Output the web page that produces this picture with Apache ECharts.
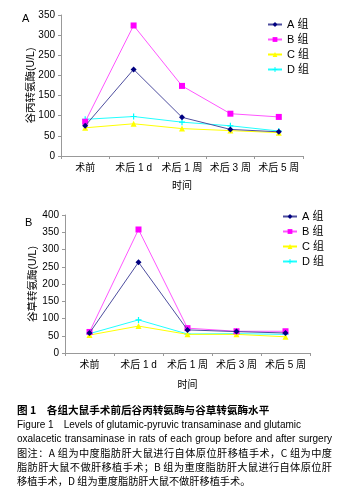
<!DOCTYPE html>
<html>
<head>
<meta charset="utf-8">
<script src="https://cdn.jsdelivr.net/npm/echarts@6/dist/echarts.min.js"></script>
<style>
  html, body { margin: 0; padding: 0; background: #fff; }
  #wrap { position: relative; width: 348px; height: 500px; }
  #main { position: absolute; left: 0; top: 0; width: 348px; height: 500px; }
  .cap { position: absolute; left: 17px; width: 315px; height: 14px; line-height: 14px; color: #000; white-space: nowrap; }
  .cn { font-family: "Noto Sans CJK SC", sans-serif; font-size: 10.2px; }
  .en { font-family: "Liberation Sans", Arial, sans-serif; font-size: 10px; }
  .title { font-family: "Noto Sans CJK SC", sans-serif; font-size: 10.6px; font-weight: bold; }
  .just { text-align: justify; text-align-last: justify; }
</style>
</head>
<body>
<div id="wrap">
  <div id="main"></div>
  <div id="caption"></div>
</div>
<script>
var categories = ['术前', '术后 1 d', '术后 1 周', '术后 3 周', '术后 5 周'];
var groupNames = ['A 组', 'B 组', 'C 组', 'D 组'];

// 谷丙转氨酶 (ALT)
var altA = [75, 215, 96, 66, 60];
var altB = [85, 324, 174, 105, 97];
var altC = [70, 80, 68, 63, 58];
var altD = [91, 98, 84, 75, 62];

// 谷草转氨酶 (AST)
var astA = [58, 263, 67, 62, 58];
var astB = [61, 358, 72, 63, 63];
var astC = [52, 78, 54, 54, 47];
var astD = [56, 96, 55, 56, 54];

var captionTitle = '图 1\u3000各组大鼠手术前后谷丙转氨酶与谷草转氨酶水平';
var captionLines = [
    ['en', 'Figure 1\u3000Levels of glutamic-pyruvic transaminase and glutamic'],
    ['en just', 'oxalacetic transaminase in rats of each group before and after surgery'],
    ['cn just', '图注：A 组为中度脂肪肝大鼠进行自体原位肝移植手术，C 组为中度'],
    ['cn just', '脂肪肝大鼠不做肝移植手术；B 组为重度脂肪肝大鼠进行自体原位肝'],
    ['cn', '移植手术，D 组为重度脂肪肝大鼠不做肝移植手术。']
];

var font = '"Liberation Sans", "Noto Sans CJK SC", sans-serif';
var styles = [
    { line: '#4d4d9e', mark: '#000080', symbol: 'diamond', size: 6 },
    { line: '#ff55ff', mark: '#ff00ff', symbol: 'rect', size: 6 },
    { line: '#ffff00', mark: '#ffff00', symbol: 'triangle', size: 6 },
    { line: '#22ffff', mark: '#00ffff', symbol: 'path://M4,0H6V4H10V6H6V10H4V6H0V4H4Z', size: 6 }
];

function makeSeries(data, idx) {
    return data.map(function (vals, i) {
        return {
            name: groupNames[i],
            type: 'line',
            xAxisIndex: idx,
            yAxisIndex: idx,
            data: vals,
            symbol: styles[i].symbol,
            symbolSize: styles[i].size,
            lineStyle: { color: styles[i].line, width: 1 },
            itemStyle: { color: styles[i].mark },
            emphasis: { disabled: true },
            z: 10 - i
        };
    });
}

function xAxis(idx, gap) {
    return {
        gridIndex: idx,
        type: 'category',
        data: categories,
        name: '时间',
        nameLocation: 'middle',
        nameGap: gap,
        nameMoveOverlap: false,
        nameTextStyle: { fontSize: 10, color: '#000', fontFamily: font },
        axisLine: { lineStyle: { color: '#999' } },
        axisTick: { show: true, length: 3, lineStyle: { color: '#999' } },
        axisLabel: { interval: 0, fontSize: 10, color: '#000', fontFamily: font, margin: 7 }
    };
}

function yAxis(idx, max, name, gap) {
    return {
        gridIndex: idx,
        type: 'value',
        min: 0,
        max: max,
        interval: 50,
        name: name,
        nameLocation: 'middle',
        nameRotate: 90,
        nameGap: gap,
        nameMoveOverlap: false,
        nameTextStyle: { fontSize: 10.5, color: '#000', fontFamily: font },
        axisLine: { show: true, lineStyle: { color: '#999' } },
        axisTick: { show: true, length: 3, lineStyle: { color: '#999' } },
        splitLine: { show: false },
        axisLabel: { fontSize: 10, color: '#000', fontFamily: font, margin: 6 }
    };
}

function legend(left, top) {
    return {
        orient: 'vertical',
        left: left,
        top: top,
        padding: 0,
        data: groupNames,
        itemWidth: 14,
        itemHeight: 6,
        itemGap: 2,
        selectedMode: false,
        textStyle: { fontSize: 11, color: '#000', fontFamily: font, lineHeight: 13 }
    };
}

var myChart = echarts.init(document.getElementById('main'));
var option = {
    animation: false,
    grid: [
        { left: 61, top: 15, width: 242, height: 141 },
        { left: 65, top: 215, width: 245, height: 138 }
    ],
    xAxis: [xAxis(0, 25), xAxis(1, 27)],
    yAxis: [yAxis(0, 350, '谷丙转氨酶(U/L)', 25), yAxis(1, 400, '谷草转氨酶(U/L)', 27)],
    legend: [legend(267, 18), legend(282, 210)],
    series: makeSeries([altA, altB, altC, altD], 0).concat(makeSeries([astA, astB, astC, astD], 1)),
    graphic: [
        { type: 'text', left: 22, top: 13, style: { text: 'A', font: '11px ' + font, fill: '#000' } },
        { type: 'text', left: 25, top: 217, style: { text: 'B', font: '11px ' + font, fill: '#000' } }
    ]
};
myChart.setOption(option);

// caption below the two charts
var cap = document.getElementById('caption');
var html = '<div class="cap title" style="top:403px">' + captionTitle + '</div>';
captionLines.forEach(function (l, i) {
    html += '<div class="cap ' + l[0] + '" style="top:' + (418 + i * 14) + 'px">' + l[1] + '</div>';
});
cap.innerHTML = html;
</script>
</body>
</html>
